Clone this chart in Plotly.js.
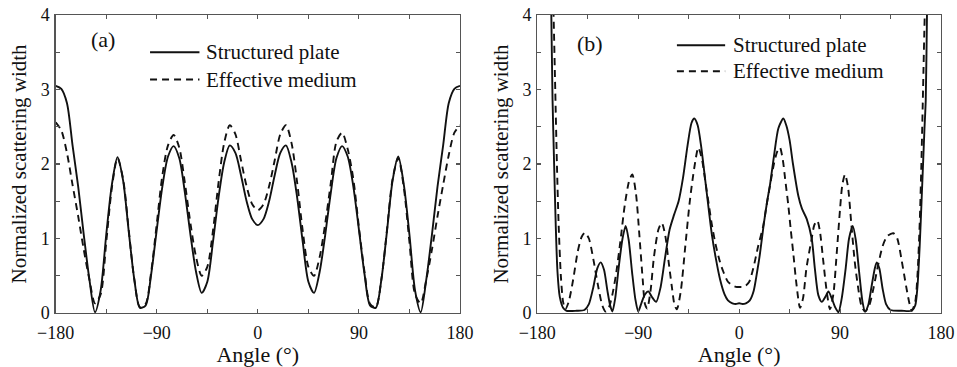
<!DOCTYPE html>
<html>
<head>
<meta charset="utf-8">
<script src="https://cdn.plot.ly/plotly-3.0.1.min.js"></script>
<style>html,body{margin:0;padding:0;background:#fff;}#chart{width:957px;height:367px;}</style>
</head>
<body>
<div id="chart"></div>
<script>
// ---------- Panel (a) ----------
const angleA = [-180,-175,-170,-165,-160,-155,-150,-145,-140,-135,-130,-125,-120,-115,-110,-105,-100,-95,-90,-85,-80,-75,-70,-65,-60,-55,-50,-45,-40,-35,-30,-25,-20,-15,-10,-5,0,
  5,10,15,20,25,30,35,40,45,50,55,60,65,70,75,80,85,90,95,100,105,110,115,120,125,130,135,140,145,150,155,160,165,170,175,180];
const plateA = [3.05,3.01,2.82,2.25,1.7,1.05,0.45,0.01,0.3,1.05,1.72,2.09,1.78,1.1,0.45,0.07,0.1,0.52,1.12,1.7,2.1,2.24,2.08,1.62,1.05,0.55,0.27,0.42,0.95,1.55,2.02,2.25,2.15,1.85,1.5,1.26,1.18,
  1.26,1.5,1.85,2.15,2.25,2.02,1.55,0.95,0.42,0.27,0.55,1.05,1.62,2.08,2.24,2.1,1.7,1.12,0.52,0.1,0.07,0.45,1.1,1.78,2.1,1.72,1.05,0.3,0.01,0.45,1.05,1.7,2.25,2.82,3.01,3.05];
const mediumA = [2.56,2.45,2.15,1.72,1.3,0.85,0.45,0.13,0.25,0.95,1.68,2.08,1.8,1.12,0.45,0.08,0.12,0.55,1.2,1.85,2.25,2.39,2.22,1.75,1.2,0.75,0.5,0.62,1.1,1.75,2.28,2.52,2.4,2.05,1.7,1.46,1.38,
  1.46,1.7,2.05,2.4,2.52,2.28,1.75,1.1,0.62,0.5,0.75,1.2,1.75,2.3,2.42,2.2,1.8,1.15,0.55,0.12,0.08,0.45,1.12,1.8,2.08,1.68,0.95,0.25,0.13,0.45,0.85,1.3,1.72,2.12,2.42,2.52];

// ---------- Panel (b) ----------
const anglePlateB = [-180,-172,-169,-167.5,-166.4,-165,-163.5,-162,-160,-157,-154,-145,-138,-134,-130,-126.5,-123.5,-120.5,-117.5,-115,-113,-110.5,-107.5,-104,-101.2,-98.5,-95.5,-92.5,-90,-87,-84,-81,-78,-74,-70,-66,-62,-58,-54,-50,-46,-42.5,-40,-37,-34,-31,-28,-24.5,-21,-17,-13,-10,-6,-3,0,
  3,6,9.5,13,16,18.6,22,25,27.5,31,35,39.4,42,45,48,52.8,56,60.3,64.7,67.5,70.6,73.7,77,79.6,82.5,85.5,88.5,91.5,95,98,101.3,104,107,110,112.3,115,118,121,122.7,125,128,131,135,145,154,157,159,161,162.8,165.2,166.4,167.5,169,172,180];
const plateB = [30,9,5.5,4.0,2.86,2.0,1.15,0.55,0.22,0.07,0.03,0.03,0.04,0.12,0.35,0.6,0.68,0.58,0.3,0.1,0.02,0.2,0.6,1.0,1.17,0.98,0.55,0.18,0.02,0.14,0.25,0.29,0.22,0.15,0.35,0.75,1.12,1.32,1.5,1.82,2.25,2.55,2.61,2.52,2.25,1.88,1.5,1.07,0.75,0.45,0.25,0.17,0.13,0.12,0.13,
  0.12,0.13,0.17,0.3,0.55,0.8,1.2,1.5,1.72,2.1,2.48,2.61,2.52,2.32,2.0,1.57,1.4,1.26,1.0,0.6,0.24,0.15,0.22,0.29,0.2,0.08,0.01,0.2,0.6,1.0,1.17,0.98,0.55,0.15,0.02,0.1,0.35,0.6,0.68,0.6,0.32,0.12,0.04,0.03,0.03,0.1,0.35,0.9,1.55,2.45,2.86,4.0,5.5,9,30];
const angleMediumB = [-180,-172,-168,-165.5,-164,-162.5,-161,-159,-157,-155,-152,-148,-144,-140.5,-137.5,-134,-130,-126,-122,-119,-116,-113,-110,-106,-102,-98,-95.3,-92,-89,-86,-84,-82,-79,-76,-72,-69,-66,-63,-60,-57.5,-55.5,-52,-48,-44,-40,-36.4,-33,-30,-27,-24.5,-21,-17,-14,-10,-6,-3,0,
  3,6,9,12.6,17,21.5,24.5,27.5,31,34,36.4,39,41,43.8,46,48.3,51,54.3,57,60,64.7,67,69.7,72,75,78,81,84,87,90,92,94.4,97,100,103,106,109,112.3,116,120,124,128,132,137.5,141,145,149,152,154,157,159,161,162.5,164,165.5,168,172,180];
const mediumB = [30,9,5.2,4.0,3.0,2.0,1.2,0.5,0.15,0.05,0.15,0.45,0.82,1.02,1.08,1.0,0.72,0.38,0.1,0.02,0.08,0.25,0.5,0.95,1.45,1.78,1.86,1.6,1.05,0.45,0.12,0.06,0.3,0.75,1.12,1.21,1.05,0.7,0.35,0.1,0.05,0.3,0.9,1.5,1.95,2.22,2.05,1.75,1.45,1.2,0.92,0.68,0.55,0.42,0.37,0.35,0.35,
  0.35,0.37,0.42,0.6,0.9,1.17,1.45,1.71,2.0,2.17,2.22,2.05,1.8,1.45,1.12,0.8,0.4,0.07,0.2,0.6,1.0,1.18,1.24,1.1,0.7,0.3,0.05,0.25,0.8,1.4,1.72,1.86,1.7,1.2,0.7,0.35,0.1,0.02,0.1,0.35,0.65,0.9,1.03,1.07,1.0,0.7,0.35,0.12,0.03,0.15,0.5,1.2,2.0,3.0,4.0,5.2,9,30];

// ---------- labels ----------
const xTicks = [-180,-90,0,90,180];
const xMinor = [-135,-45,45,135];
const yTicks = [0,1,2,3,4];
const yMinor = [0.5,1.5,2.5,3.5];
const seriesNames = ['Structured plate','Effective medium'];
const panelLabels = ['(a)','(b)'];
const xTitle = 'Angle (°)';
const yTitle = 'Normalized scattering width';

const FONT = 'Liberation Serif, Times New Roman, serif';
const INK = '#111';
const TXT = '#111';
const AX = '#555';

const solidLine = {color: INK, width: 1.9};
const dashLine = {color: INK, width: 1.9, dash: '7px,5px'};

const traces = [
  {x: angleA, y: plateA, xaxis: 'x', yaxis: 'y', mode: 'lines', line: Object.assign({shape:'spline', smoothing:0.8}, solidLine), name: seriesNames[0], showlegend: false},
  {x: angleA, y: mediumA, xaxis: 'x', yaxis: 'y', mode: 'lines', line: Object.assign({shape:'spline', smoothing:0.8}, dashLine), name: seriesNames[1], showlegend: false},
  {x: anglePlateB, y: plateB, xaxis: 'x2', yaxis: 'y2', mode: 'lines', line: Object.assign({shape:'spline', smoothing:0.7}, solidLine), name: seriesNames[0], showlegend: false},
  {x: angleMediumB, y: mediumB, xaxis: 'x2', yaxis: 'y2', mode: 'lines', line: Object.assign({shape:'spline', smoothing:0.7}, dashLine), name: seriesNames[1], showlegend: false}
];

function xAxis(domain, anchor) {
  return {
    domain: domain, anchor: anchor, range: [-180, 180],
    tickmode: 'array', tickvals: xTicks, ticktext: xTicks.map(v => v < 0 ? '\u2212' + Math.abs(v) : String(v)),
    ticks: 'inside', ticklen: 4, tickwidth: 1.1, tickcolor: AX, ticklabelstandoff: 3,
    minor: {tickmode: 'array', tickvals: xMinor, ticks: 'inside', ticklen: 4, tickwidth: 1.1, tickcolor: AX, showgrid: false},
    showline: true, linecolor: AX, linewidth: 1.3, mirror: 'ticks',
    showgrid: false, zeroline: false,
    tickfont: {family: FONT, size: 18, color: TXT},
    title: {text: xTitle, font: {family: FONT, size: 22, color: TXT}, standoff: 2},
    fixedrange: true
  };
}
function yAxis(domain, anchor) {
  return {
    domain: domain, anchor: anchor, range: [0, 4],
    tickmode: 'array', tickvals: yTicks,
    ticks: 'inside', ticklen: 4, tickwidth: 1.1, tickcolor: AX, ticklabelstandoff: 1,
    minor: {tickmode: 'array', tickvals: yMinor, ticks: 'inside', ticklen: 4, tickwidth: 1.1, tickcolor: AX, showgrid: false},
    showline: true, linecolor: AX, linewidth: 1.3, mirror: 'ticks',
    showgrid: false, zeroline: false,
    tickfont: {family: FONT, size: 18, color: TXT},
    title: {text: yTitle, font: {family: FONT, size: 21, color: TXT}, standoff: 8},
    fixedrange: true
  };
}

// legend keys and panel labels (data coordinates of each panel)
const legendA = {x0: -96, x1: -52, tx: -47.9, y1: 3.50, y2: 3.134};
const legendB = {x0: -55.5, x1: -12.5, tx: -7.0, y1: 3.594, y2: 3.245};
const labelPos = [{x: -138.2, y: 3.67}, {x: -133.0, y: 3.62}];

function legendShapes(L, xr, yr) {
  return [
    {type: 'line', xref: xr, yref: yr, x0: L.x0, x1: L.x1, y0: L.y1, y1: L.y1, line: {color: INK, width: 1.9}},
    {type: 'line', xref: xr, yref: yr, x0: L.x0, x1: L.x1, y0: L.y2, y1: L.y2, line: {color: INK, width: 1.9, dash: '7px,5px'}}
  ];
}
function legendText(L, xr, yr) {
  return [
    {xref: xr, yref: yr, x: L.tx, y: L.y1, text: seriesNames[0], showarrow: false, xanchor: 'left', yanchor: 'middle', font: {family: FONT, size: 21, color: TXT}},
    {xref: xr, yref: yr, x: L.tx, y: L.y2, text: seriesNames[1], showarrow: false, xanchor: 'left', yanchor: 'middle', font: {family: FONT, size: 21, color: TXT}}
  ];
}

const layout = {
  width: 957, height: 367,
  margin: {l: 0, r: 0, t: 15, b: 54},
  paper_bgcolor: '#fff', plot_bgcolor: '#fff',
  showlegend: false,
  font: {family: FONT, color: TXT},
  xaxis: xAxis([55.7/957, 460/957], 'y'),
  yaxis: yAxis([0, 1], 'x'),
  xaxis2: xAxis([537.3/957, 941/957], 'y2'),
  yaxis2: yAxis([0, 1], 'x2'),
  shapes: [].concat(legendShapes(legendA, 'x', 'y'), legendShapes(legendB, 'x2', 'y2')),
  annotations: [].concat(
    legendText(legendA, 'x', 'y'), legendText(legendB, 'x2', 'y2'),
    [
      {xref: 'x', yref: 'y', x: labelPos[0].x, y: labelPos[0].y, text: panelLabels[0], showarrow: false, xanchor: 'center', yanchor: 'middle', font: {family: FONT, size: 22, color: TXT}},
      {xref: 'x2', yref: 'y2', x: labelPos[1].x, y: labelPos[1].y, text: panelLabels[1], showarrow: false, xanchor: 'center', yanchor: 'middle', font: {family: FONT, size: 22, color: TXT}}
    ])
};

Plotly.newPlot('chart', traces, layout, {staticPlot: true, displayModeBar: false});
</script>
</body>
</html>
